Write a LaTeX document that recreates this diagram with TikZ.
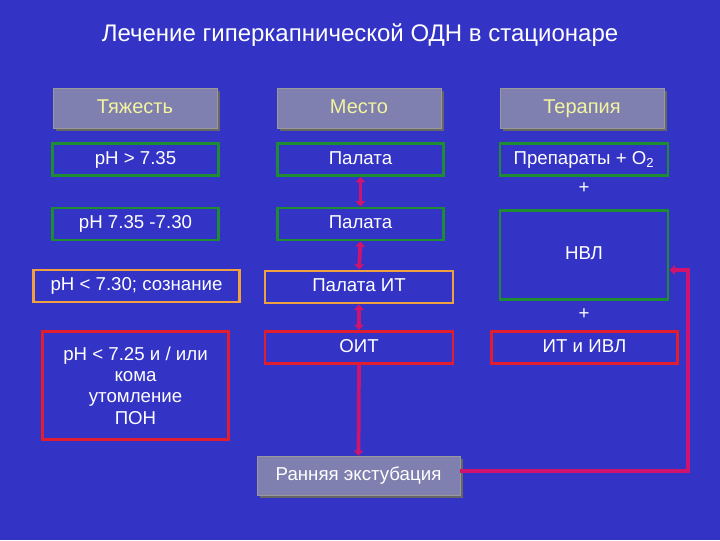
\documentclass[tikz,border=0pt]{standalone}
\usepackage{fontspec}
\setmainfont{Liberation Sans}
\usetikzlibrary{arrows.meta,shadows}
\definecolor{bg}{HTML}{3333C6}
\definecolor{gr}{HTML}{1E8C32}
\definecolor{orn}{HTML}{F0A040}
\definecolor{rd}{HTML}{E01E30}
\definecolor{arr}{HTML}{D0146E}
\definecolor{hd}{HTML}{8080B0}
\definecolor{hdt}{HTML}{F4F4A0}
\begin{document}
\begin{tikzpicture}[x=0.75pt,y=-0.75pt,
 box/.style={draw=#1,line width=2.2pt,minimum height=24pt,text=white,font=\fontsize{14}{16}\selectfont,inner sep=0pt,text height=10pt,text depth=3pt},
 head/.style={fill=hd,draw=black!40,line width=0.5pt,text=hdt,font=\fontsize{15}{17}\selectfont,minimum width=123pt,minimum height=30pt,text height=11pt,text depth=3pt,general shadow={fill=black!60,shadow xshift=2pt,shadow yshift=-2pt}},
 con/.style={draw=arr,line width=2.8pt,-{Triangle[length=4pt,width=7pt]}},
 dcon/.style={draw=arr,line width=2.8pt,{Triangle[length=4pt,width=7pt]}-{Triangle[length=4pt,width=7pt]}}]
\fill[bg] (0,0) rectangle (720,540);
\useasboundingbox (0,0) rectangle (720,540);
\node[text=white,font=\fontsize{18}{20}\selectfont] (title) at (360,35) {Лечение гиперкапнической ОДН в стационаре};
\node[head] (h1) at (135,108) {Тяжесть};
\node[head] (h2) at (359,108) {Место};
\node[head] (h3) at (582,108) {Терапия};
\node[box=gr,minimum width=124pt] (a1) at (135.5,159.5) {pH > 7.35};
\node[box=gr,minimum width=125pt] (b1) at (360.5,159.5) {Палата};
\node[box=gr,minimum width=126pt] (c1) at (584,159.5) {Препараты + O\textsubscript{2}};
\node[box=gr,minimum width=124pt] (a2) at (135.5,224) {pH 7.35 -7.30};
\node[box=gr,minimum width=125pt] (b2) at (360.5,224) {Палата};
\node[text=white,font=\fontsize{14}{16}\selectfont] (p1) at (584,188) {+};
\node[box=gr,minimum width=126pt,minimum height=67pt] (c2) at (584,255) {НВЛ};
\node[box=orn,minimum width=155pt] (a3) at (136.5,286) {pH < 7.30; сознание};
\node[box=orn,minimum width=141pt] (b3) at (359,287) {Палата ИТ};
\node[text=white,font=\fontsize{14}{16}\selectfont] (p2) at (584,314) {+};
\node[box=rd,minimum width=140pt,minimum height=81pt,align=center,anchor=north,inner sep=3pt,text height=,text depth=] (a4) at (135.5,330) {pH < 7.25 и / или\\кома\\утомление\\ПОН};
\node[box=rd,minimum width=141pt,anchor=north] (b4) at (359,330) {ОИТ};
\node[box=rd,minimum width=139pt,anchor=north] (c4) at (584.5,330) {ИТ и ИВЛ};
\node[head,text=white,minimum width=152pt,minimum height=29pt,font=\fontsize{14}{16}\selectfont] (r) at (358.5,475.5) {Ранняя экстубация};
\draw[dcon] (b1.south) -- (b2.north);
\draw[dcon] (b2.south) -- (b3.north);
\draw[dcon] (b3.south) -- (b4.north);
\draw[con] (b4.south) -- (r.north);
\coordinate (k1) at (688,471);
\coordinate (k2) at (688,270);
\draw[con] (r.east |- k1) -- (k1) -- (k2) -- (c2.east |- k2);
\end{tikzpicture}
\end{document}
